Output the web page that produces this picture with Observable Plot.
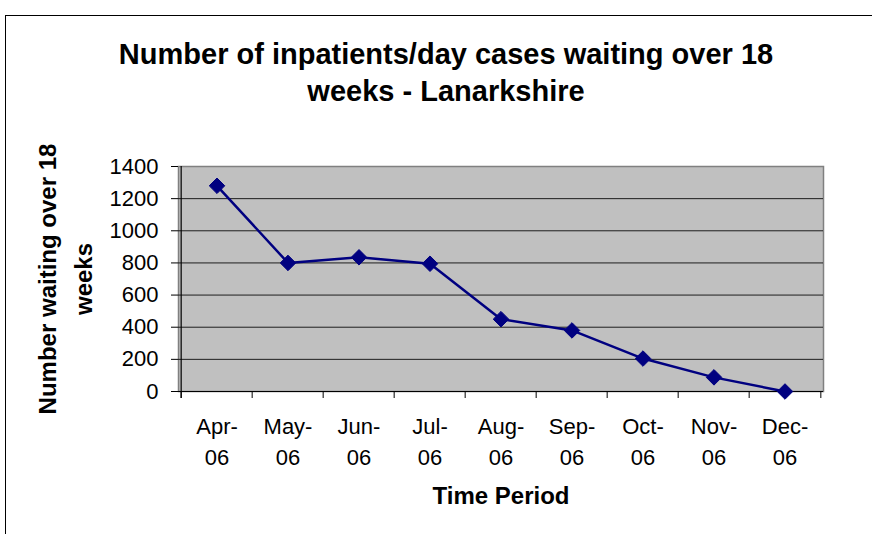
<!DOCTYPE html>
<html>
<head>
<meta charset="utf-8">
<script src="https://cdn.jsdelivr.net/npm/d3@7"></script>
<script src="https://cdn.jsdelivr.net/npm/@observablehq/plot@0.6"></script>
<style>
  html, body { margin: 0; padding: 0; background: #fff; }
  #wrap { position: relative; width: 872px; height: 534px; overflow: hidden; font-family: "Liberation Sans", Arial, sans-serif; }
  #title { box-sizing: border-box; height: 130px; padding-top: 36px; padding-left: 20px; text-align: center; font-weight: bold; font-size: 29px; line-height: 37px; color: #000; }
  #border { position: absolute; left: 5px; top: 15px; right: -2px; bottom: -2px; border-left: 1px solid #000; border-top: 1px solid #000; pointer-events: none; }
  svg { display: block; }
</style>
</head>
<body>
<div id="wrap">
  <div id="title">Number of inpatients/day cases waiting over 18<br>weeks - Lanarkshire</div>
  <div id="chart"></div>
  <div id="border"></div>
</div>
<script>
const months = ["Apr-06", "May-06", "Jun-06", "Jul-06", "Aug-06", "Sep-06", "Oct-06", "Nov-06", "Dec-06"];
const waiting = [1280, 800, 835, 795, 450, 380, 205, 88, 0];
const yTicks = [0, 200, 400, 600, 800, 1000, 1200, 1400];
const yTitle = "Number waiting over 18\nweeks";
const xTitle = "Time Period";

const data = months.map((m, i) => ({month: m, value: waiting[i]}));

const W = 872, H = 404;
const mL = 178, mR = 49, mT = 36, mB = 143;
const bw = (W - mL - mR) / months.length;

const chart = Plot.plot({
  width: W,
  height: H,
  marginLeft: mL,
  marginRight: mR,
  marginTop: mT,
  marginBottom: mB,
  style: {fontFamily: "Liberation Sans, Arial, sans-serif", fontSize: "22px", background: "transparent", color: "#000"},
  x: {type: "band", domain: months, padding: 0, label: null},
  y: {domain: [0, 1400], label: null},
  marks: [
    Plot.frame({fill: "#c0c0c0", stroke: "#808080", strokeWidth: 1.5}),
    Plot.ruleY(yTicks.filter(d => d > 0 && d < 1400), {y: d => d, stroke: "#000", strokeWidth: 1, strokeOpacity: 0.85}),
    Plot.ruleY([0], {stroke: "#000", strokeWidth: 1.2}),
    Plot.ruleX([months[0]], {x: d => d, dx: -bw / 2, stroke: "#000", strokeWidth: 1.2, insetBottom: -7}),
    Plot.ruleX(months, {x: d => d, dx: -bw / 2, y1: 0, y2: 0, insetBottom: -7, stroke: "#000", strokeWidth: 1}),
    Plot.ruleX([months[months.length - 1]], {x: d => d, dx: bw / 2, y1: 0, y2: 0, insetBottom: -7, stroke: "#000", strokeWidth: 1}),
    Plot.axisY(yTicks, {tickSize: 7, tickPadding: 13, fontSize: 22, label: null, stroke: "#000", tickFormat: d => String(d)}),
    Plot.axisX(months, {tickSize: 0, tickPadding: 20, fontSize: 22, lineHeight: 1.41, label: null,
      tickFormat: d => d.replace("-", "-\n")}),
    Plot.line(data, {x: "month", y: "value", stroke: "#000080", strokeWidth: 2.5}),
    Plot.dot(data, {x: "month", y: "value", symbol: "diamond2", r: 7, fill: "#000080", stroke: "#000080", strokeWidth: 1}),
    Plot.text([yTitle], {text: d => d, frameAnchor: "left", rotate: -90, dx: -116, fontWeight: "bold", fontSize: 24, lineHeight: 1.48, textAnchor: "middle", lineAnchor: "middle"}),
    Plot.text([xTitle], {text: d => d, frameAnchor: "bottom", dy: 105, fontWeight: "bold", fontSize: 24, textAnchor: "middle", lineAnchor: "middle"})
  ]
});
document.getElementById("chart").appendChild(chart);
</script>
</body>
</html>
